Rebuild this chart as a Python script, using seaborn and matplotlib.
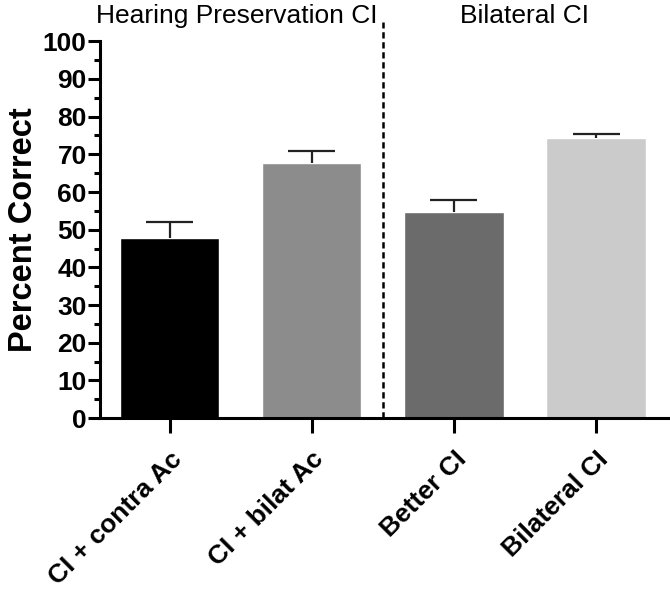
import numpy as np
import pandas as pd
import seaborn as sns
import matplotlib.pyplot as plt

# values
conditions = ["CI + contra Ac", "CI + bilat Ac", "Better CI", "Bilateral CI"]
means = [47.7, 67.8, 54.8, 74.2]
sem = [4.4, 3.1, 3.1, 1.2]
bar_colors = ["#000000", "#8c8c8c", "#6b6b6b", "#cbcbcb"]
groups = ["Hearing Preservation CI", "Bilateral CI"]

df = pd.DataFrame({"condition": conditions, "score": means})

sns.set_theme(style="ticks")
plt.rcParams["font.family"] = ["Liberation Sans", "DejaVu Sans"]
plt.rcParams["text.color"] = "black"
plt.rcParams["xtick.color"] = "black"
plt.rcParams["ytick.color"] = "black"
plt.rcParams["axes.labelcolor"] = "black"
plt.rcParams["axes.edgecolor"] = "black"

fig = plt.figure(figsize=(6.7, 5.89), dpi=100)
ax = fig.add_axes([0.149, 0.290, 0.851, 0.640])

sns.barplot(data=df, x="condition", y="score", hue="condition",
            palette=bar_colors, width=0.7, errorbar=None, legend=False,
            saturation=1, ax=ax)

# upper error bars only (SEM)
xs = np.arange(len(conditions))
tops = np.array(means) + np.array(sem)
ax.vlines(xs, means, tops, color="#222222", linewidth=1.6, zorder=3)
ax.hlines(tops, xs - 0.165, xs + 0.165, color="#222222", linewidth=1.6, zorder=3)

ax.set_xlim(-0.49, 3.52)
ax.set_ylim(0, 100)
ax.set_yticks(np.arange(0, 101, 10))
ax.set_yticks(np.arange(5, 100, 10), minor=True)
ax.set_xlabel("")
ax.set_ylabel("Percent Correct", fontsize=23.5, fontweight="bold", labelpad=3)

for s in ["top", "right"]:
    ax.spines[s].set_visible(False)
ax.spines["left"].set_linewidth(2.2)
ax.spines["bottom"].set_linewidth(2.2)
ax.tick_params(axis="y", which="major", length=8.5, width=2.2, labelsize=19, pad=1)
ax.tick_params(axis="y", which="minor", length=4.5, width=2.2)
ax.tick_params(axis="x", length=11, width=2.2, labelsize=19, pad=10)
for lbl in ax.get_yticklabels():
    lbl.set_fontweight("bold")
ax.set_xticks(xs)
ax.set_xticklabels(conditions, rotation=45, ha="right", rotation_mode="anchor",
                   fontweight="bold")

# dashed divider between the two groups
ax.plot([1.5, 1.5], [0, 105], color="black", linestyle=(0, (2.5, 1.5)),
        linewidth=1.8, clip_on=False)
for xpos, name in zip([0.47, 2.5], groups):
    ax.text(xpos, 106.8, name, ha="center", va="center", fontsize=19)

fig.savefig("out.png", dpi=100)
